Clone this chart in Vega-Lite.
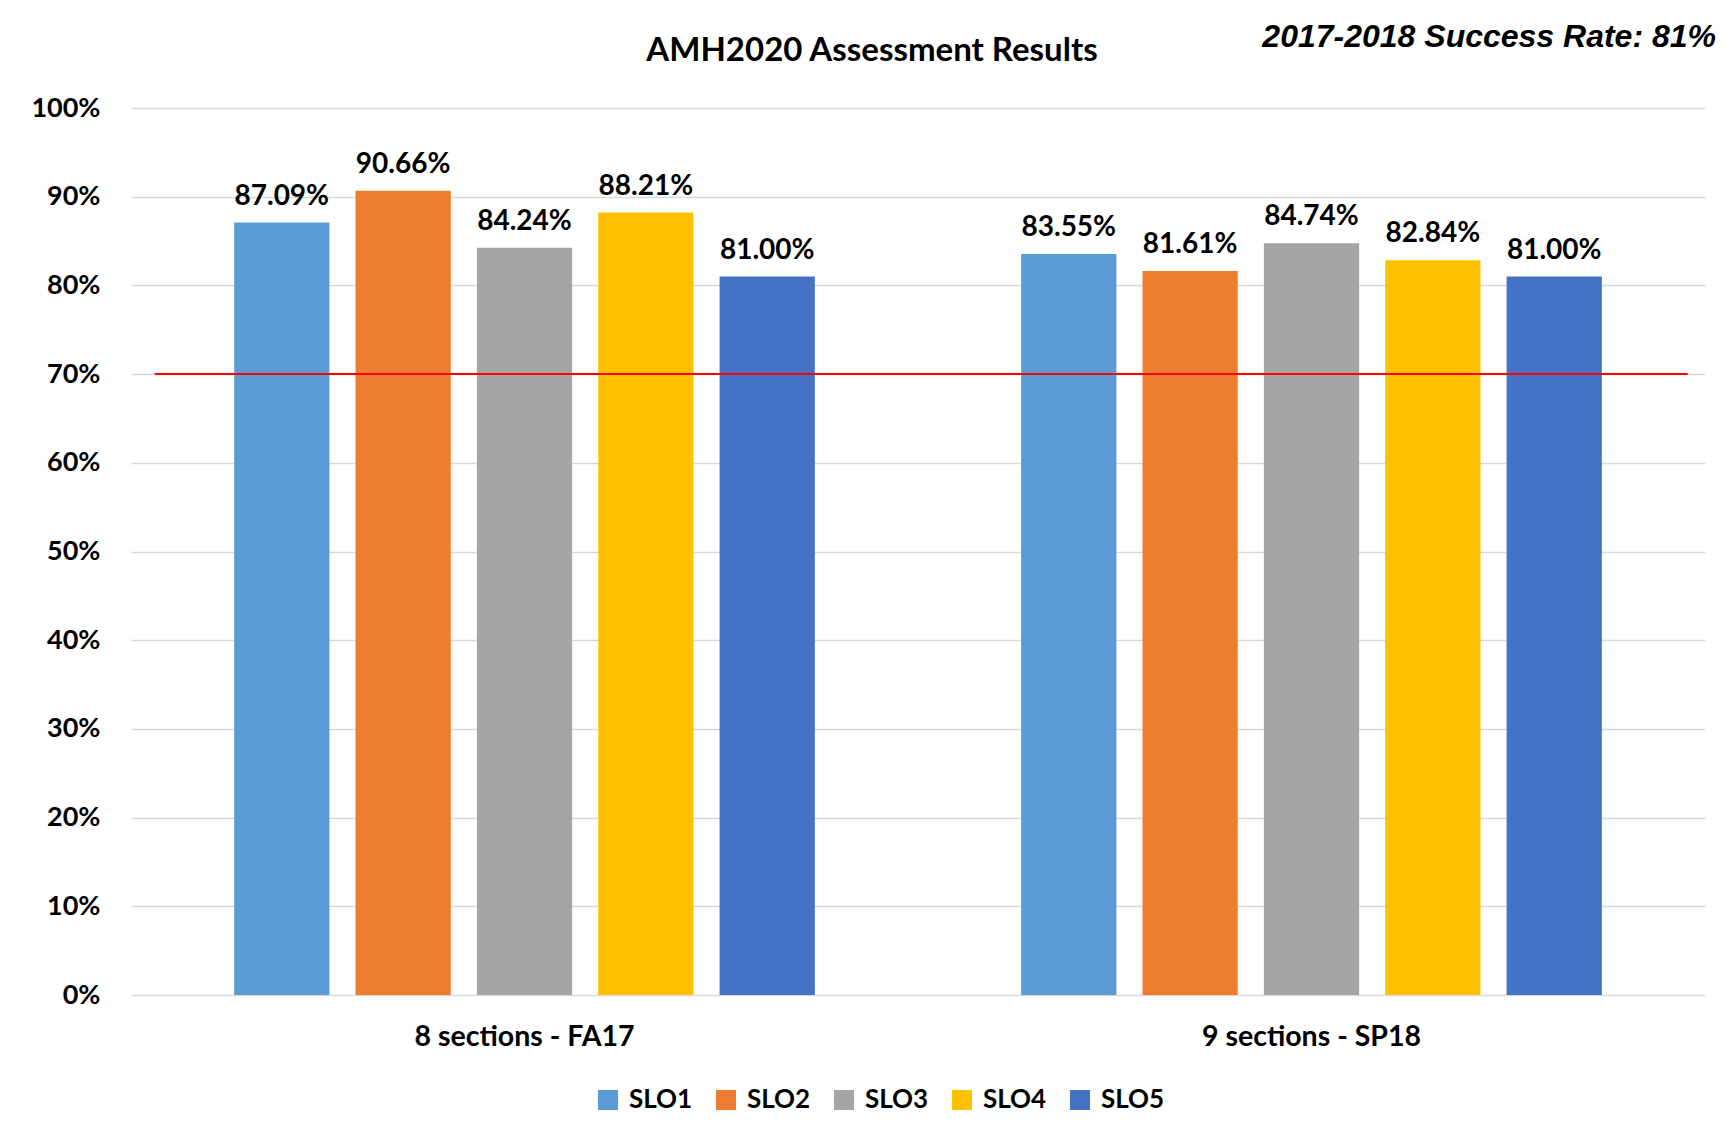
{
  "$schema": "https://vega.github.io/schema/vega-lite/v6.json",
  "width": 1574,
  "height": 887,
  "autosize": "none",
  "padding": {"left": 131, "top": 108, "right": 31, "bottom": 144},
  "background": "#ffffff",
  "config": {
    "view": {"stroke": null},
    "font": "Lato"
  },
  "datasets": {
    "results": [
      {"section": "8 sections - FA17", "slo": "SLO1", "rate": 0.8709},
      {"section": "8 sections - FA17", "slo": "SLO2", "rate": 0.9066},
      {"section": "8 sections - FA17", "slo": "SLO3", "rate": 0.8424},
      {"section": "8 sections - FA17", "slo": "SLO4", "rate": 0.8821},
      {"section": "8 sections - FA17", "slo": "SLO5", "rate": 0.81},
      {"section": "9 sections - SP18", "slo": "SLO1", "rate": 0.8355},
      {"section": "9 sections - SP18", "slo": "SLO2", "rate": 0.8161},
      {"section": "9 sections - SP18", "slo": "SLO3", "rate": 0.8474},
      {"section": "9 sections - SP18", "slo": "SLO4", "rate": 0.8284},
      {"section": "9 sections - SP18", "slo": "SLO5", "rate": 0.81}
    ],
    "target": [{"target": 0.7}],
    "note": [{"label": "2017-2018 Success Rate: 81%"}],
    "heading": [{"label": "AMH2020 Assessment Results"}]
  },
  "layer": [
    {
      "data": {"name": "results"},
      "mark": {"type": "bar"},
      "encoding": {
        "x": {
          "field": "section", "type": "nominal",
          "scale": {"paddingInner": 0, "paddingOuter": 0},
          "axis": {
            "title": null, "labelAngle": 0, "domain": false, "ticks": false, "labelLimit": 0,
            "labelPadding": 27, "labelFontSize": 28.5, "labelFontWeight": "bold",
            "labelColor": "#000000", "labelFont": "Lato"
          }
        },
        "xOffset": {
          "field": "slo", "type": "nominal",
          "scale": {"paddingInner": 0.215, "paddingOuter": 0.85}
        },
        "y": {
          "field": "rate", "type": "quantitative",
          "scale": {"domain": [0, 1], "nice": false},
          "axis": {
            "title": null, "format": ".0%", "values": [0, 0.1, 0.2, 0.3, 0.4, 0.5, 0.6, 0.7, 0.8, 0.9, 1.0],
            "domain": false, "ticks": false, "gridColor": "#d9d9d9", "gridWidth": 1.5,
            "labelPadding": 31, "labelFontSize": 27, "labelFontWeight": "bold",
            "labelColor": "#000000", "labelFont": "Lato"
          }
        },
        "color": {
          "field": "slo", "type": "nominal",
          "scale": {
            "domain": ["SLO1", "SLO2", "SLO3", "SLO4", "SLO5"],
            "range": ["#5B9BD5", "#ED7D31", "#A5A5A5", "#FFC000", "#4472C4"]
          },
          "legend": {
            "title": null, "orient": "none", "direction": "horizontal",
            "legendX": 464, "legendY": 979,
            "symbolType": "square", "symbolSize": 400, "symbolStrokeWidth": 0,
            "labelFontSize": 26, "labelFontWeight": "bold", "labelColor": "#000000",
            "labelFont": "Lato", "labelOffset": 8, "columnPadding": 20
          }
        }
      }
    },
    {
      "data": {"name": "results"},
      "mark": {"type": "text", "baseline": "alphabetic", "dy": -18, "fontSize": 28, "fontWeight": "bold", "font": "Lato", "color": "#000000"},
      "encoding": {
        "x": {"field": "section", "type": "nominal"},
        "xOffset": {"field": "slo", "type": "nominal"},
        "y": {"field": "rate", "type": "quantitative"},
        "text": {"field": "rate", "type": "quantitative", "format": ".2%"}
      }
    },
    {
      "data": {"name": "target"},
      "mark": {"type": "rule", "color": "#FF0000", "strokeWidth": 2},
      "encoding": {
        "x": {"datum": "8 sections - FA17", "bandPosition": 0.03},
        "x2": {"datum": "9 sections - SP18", "bandPosition": 0.978},
        "y": {"field": "target", "type": "quantitative"}
      }
    },
    {
      "data": {"name": "heading"},
      "mark": {"type": "text", "align": "center", "baseline": "middle", "dx": -46, "font": "Lato", "fontSize": 33, "fontWeight": "bold", "color": "#000000"},
      "encoding": {
        "x": {"datum": "9 sections - SP18", "bandPosition": 0},
        "y": {"datum": 1.064},
        "text": {"field": "label"}
      }
    },
    {
      "data": {"name": "note"},
      "mark": {"type": "text", "align": "right", "baseline": "middle", "dx": 11, "font": "Liberation Sans", "fontSize": 32, "fontWeight": "bold", "fontStyle": "italic", "color": "#000000"},
      "encoding": {
        "x": {"datum": "9 sections - SP18", "bandPosition": 1},
        "y": {"datum": 1.08},
        "text": {"field": "label"}
      }
    }
  ]
}
